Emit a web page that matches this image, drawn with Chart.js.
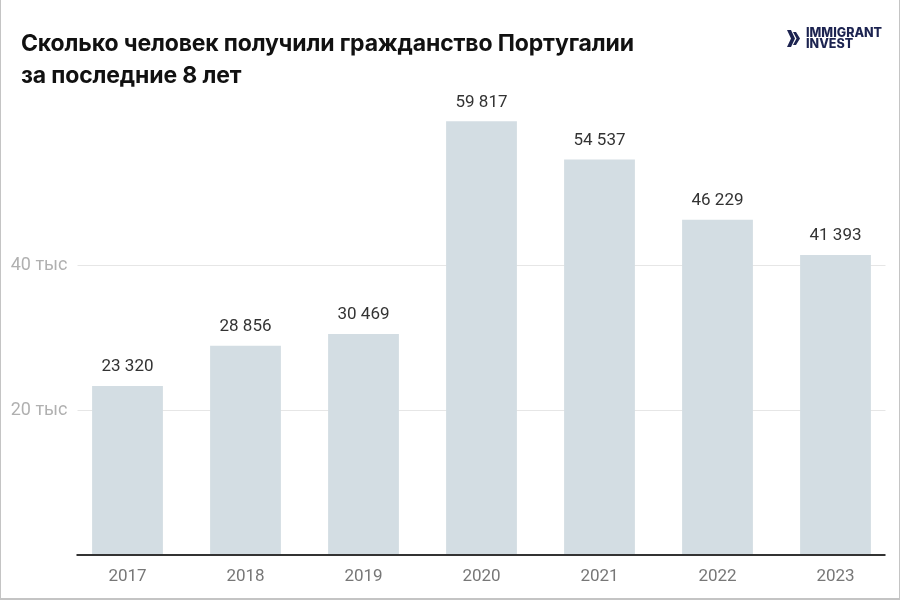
<!DOCTYPE html>
<html lang="ru">
<head>
  <meta charset="UTF-8">
  <title>Гражданство Португалии</title>
  <script src="https://cdn.jsdelivr.net/npm/chart.js"></script>
  <style>
    body { margin: 0; background: #fff; }
    #wrap {
      position: relative;
      width: 900px;
      height: 600px;
      overflow: hidden;
    }
    #frame {
      position: absolute;
      left: 0; top: 0; right: 0; bottom: 0;
      border-left: 1px solid #c4c4c4;
      border-right: 1px solid #c4c4c4;
      border-bottom: 2px solid #c4c4c4;
      pointer-events: none;
    }
    #title {
      position: absolute;
      left: 21px;
      top: 27px;
      font-family: Inter, sans-serif;
      font-weight: 700;
      font-size: 23px;
      line-height: 32px;
      color: #111;
      letter-spacing: -0.15px;
    }
    #logo {
      position: absolute;
      left: 787px;
      top: 27px;
      display: flex;
      align-items: center;
      font-family: Inter, sans-serif;
      font-weight: 800;
      font-size: 12.5px;
      line-height: 11px;
      color: #1c2350;
    }
    #logo svg { margin-right: 5px; }
    canvas { position: absolute; left: 0; top: 0; }
  </style>
</head>
<body>
  <div id="wrap">
    <canvas id="myChart"></canvas>
    <div id="title">Сколько человек получили гражданство Португалии<br>за последние 8 лет</div>
    <div id="logo">
      <svg width="14" height="17" viewBox="0 0 14 17">
        <path d="M0 0 L4 0 L8 8.5 L4 17 L0 17 L4 8.5 Z" fill="#1c2350"/>
        <path d="M6 2 L9 2 L13 8.5 L9 15 L6 15 L9.5 8.5 Z" fill="#1c2350"/>
      </svg>
      <div>IMMIGRANT<br>INVEST</div>
    </div>
    <div id="frame"></div>
  </div>

  <script>
    const years = ['2017', '2018', '2019', '2020', '2021', '2022', '2023'];
    const citizens = [23320, 28856, 30469, 59817, 54537, 46229, 41393];
    const yTicksShown = [20000, 40000];

    const fmt = v => String(v).replace(/\B(?=(\d{3})+(?!\d))/g, ' ');

    // линии сетки, базовая линия и подписи
    const linesPlugin = {
      id: 'lines',
      beforeDatasetsDraw(chart) {
        const { ctx, chartArea, scales } = chart;
        ctx.save();
        ctx.strokeStyle = '#e6e6e6';
        ctx.lineWidth = 1;
        yTicksShown.forEach(v => {
          const y = Math.round(scales.y.getPixelForValue(v)) + 0.5;
          ctx.beginPath();
          ctx.moveTo(chartArea.left + 9, y);
          ctx.lineTo(chartArea.right - 9, y);
          ctx.stroke();
        });
        ctx.restore();
      },
      afterDatasetsDraw(chart) {
        const { ctx, chartArea, scales } = chart;
        ctx.save();
        ctx.font = '17px Roboto, sans-serif';
        ctx.fillStyle = '#333';
        ctx.textAlign = 'center';
        ctx.textBaseline = 'middle';
        chart.getDatasetMeta(0).data.forEach((bar, i) => {
          ctx.fillText(fmt(citizens[i]), bar.x, bar.y - 19);
        });
        const y0 = scales.y.getPixelForValue(0);
        ctx.strokeStyle = '#333';
        ctx.lineWidth = 2;
        ctx.beginPath();
        ctx.moveTo(chartArea.left + 8, y0);
        ctx.lineTo(chartArea.right - 9, y0);
        ctx.stroke();
        ctx.restore();
      }
    };

    new Chart(document.getElementById('myChart'), {
      type: 'bar',
      data: {
        labels: years,
        datasets: [{
          data: citizens,
          backgroundColor: '#d3dde3',
          categoryPercentage: 1,
          barPercentage: 0.6
        }]
      },
      options: {
        responsive: true,
        maintainAspectRatio: false,
        animation: false,
        layout: { padding: { top: 47.5, right: 5.5, left: 0, bottom: 0 } },
        plugins: {
          legend: { display: false },
          tooltip: { enabled: false }
        },
        scales: {
          x: {
            grid: { display: false, drawTicks: false },
            border: { display: false },
            afterFit(scale) { scale.height = 45; },
            ticks: {
              padding: 12,
              color: '#777',
              font: { family: 'Roboto', size: 17 }
            }
          },
          y: {
            min: 0,
            max: 70000,
            grid: { display: false, drawTicks: false },
            border: { display: false },
            afterBuildTicks(scale) { scale.ticks = yTicksShown.map(v => ({ value: v })); },
            afterFit(scale) { scale.width = 68.5; },
            ticks: {
              padding: 1,
              color: '#b0b0b0',
              font: { family: 'Roboto', size: 18 },
              callback: v => (v / 1000) + ' тыс'
            }
          }
        }
      },
      plugins: [linesPlugin]
    });
  </script>
</body>
</html>
